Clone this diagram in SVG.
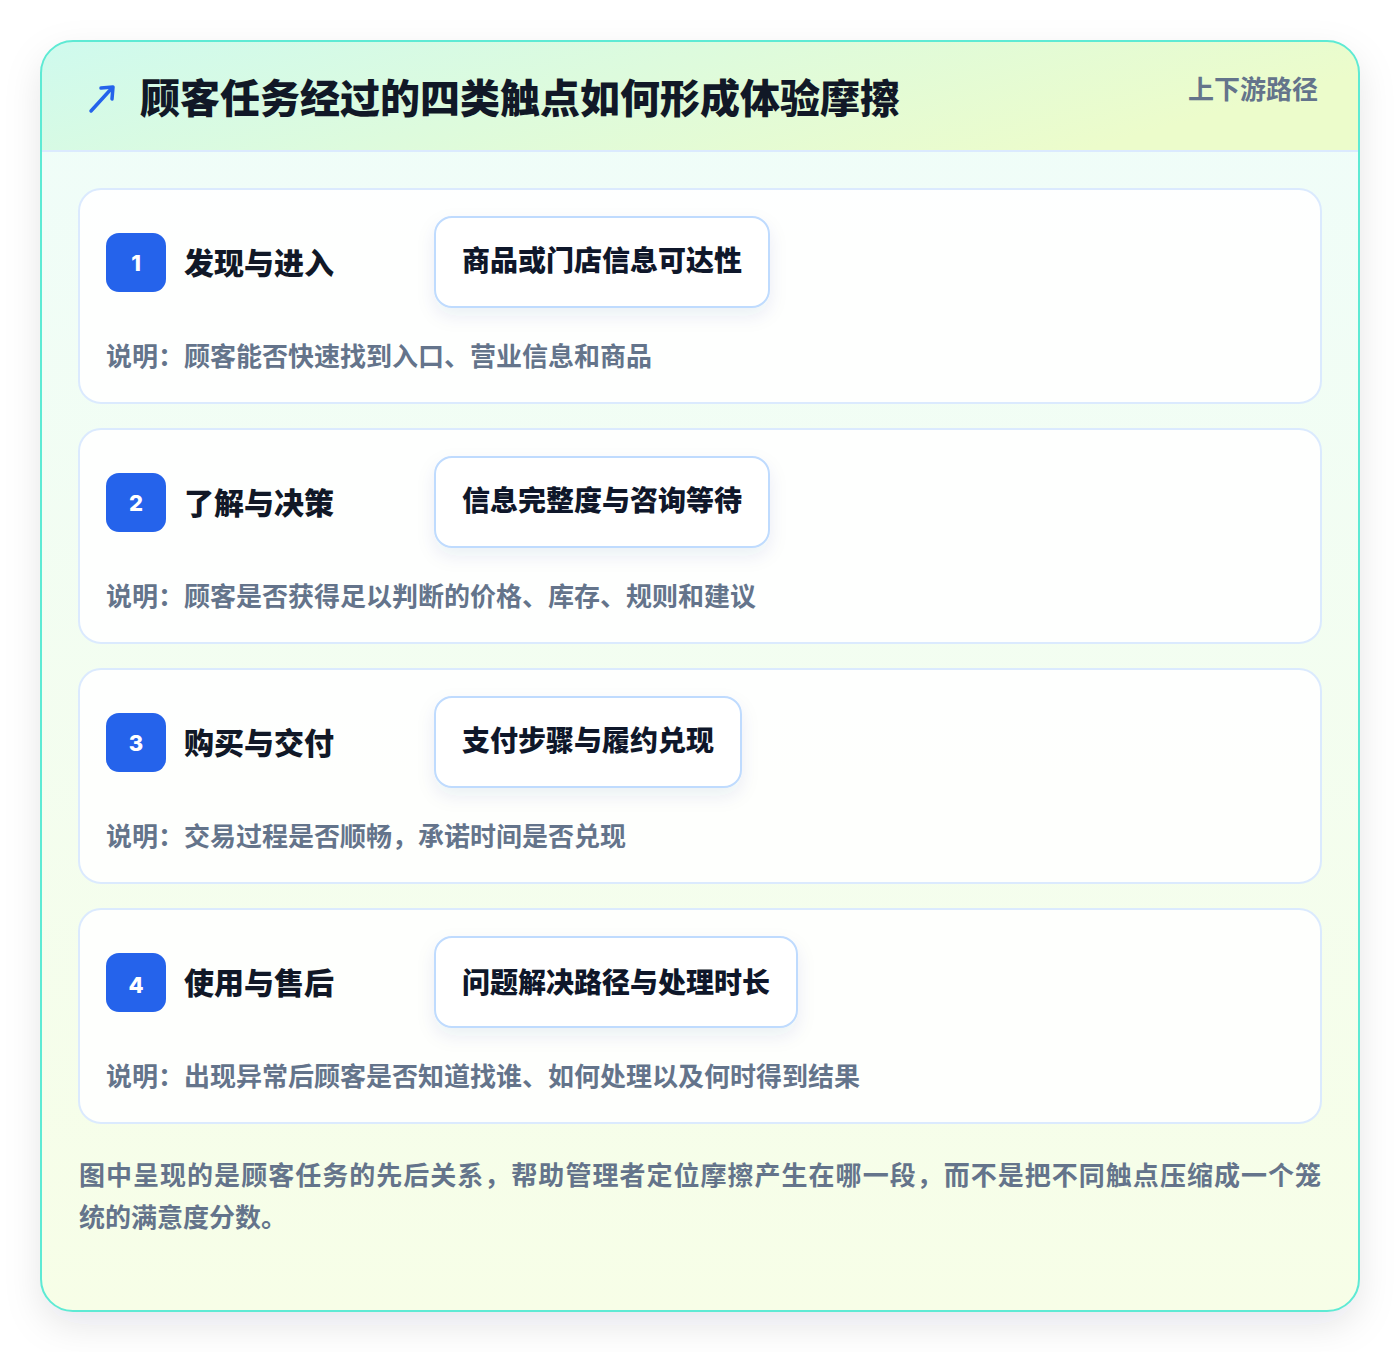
<svg xmlns="http://www.w3.org/2000/svg" width="1400" height="1352" viewBox="0 0 1400 1352">
<defs>
<linearGradient id="hdr" x1="0" y1="0" x2="1" y2="0.3">
<stop offset="0" stop-color="#cffaee"/>
<stop offset="1" stop-color="#ecfccb"/>
</linearGradient>
<linearGradient id="body" x1="0" y1="0" x2="0" y2="1">
<stop offset="0" stop-color="#effdfa"/>
<stop offset="1" stop-color="#f7fee7"/>
</linearGradient>
<filter id="outerShadow" x="-10%" y="-10%" width="120%" height="120%">
<feDropShadow dx="0" dy="14" stdDeviation="18" flood-color="#0f172a" flood-opacity="0.10"/>
</filter>
<filter id="pillShadow" x="-20%" y="-30%" width="140%" height="170%">
<feDropShadow dx="0" dy="8" stdDeviation="9" flood-color="#1e3a8a" flood-opacity="0.08"/>
</filter>
<clipPath id="cardClip"><rect x="41" y="41" width="1318" height="1270" rx="32"/></clipPath>
<style>
.cjk{font-family:"Noto Sans CJK SC","Noto Sans",sans-serif;}
.title{font-size:40px;font-weight:900;fill:#111827;}
.tag{font-size:26px;font-weight:700;fill:#64748b;}
.card{fill:#ffffff;fill-opacity:0.88;stroke:#dbeafe;stroke-width:2;}
.badge{fill:#2563eb;}
.num{font-family:"Inter","Noto Sans",sans-serif;font-size:22px;font-weight:800;fill:#ffffff;}
.stage{font-size:30px;font-weight:800;fill:#111827;}
.pill{fill:#ffffff;stroke:#bfdbfe;stroke-width:2;}
.pilltxt{font-size:28px;font-weight:800;fill:#0f172a;}
.desc{font-size:26px;font-weight:700;fill:#64748b;}
.foot{font-size:26px;font-weight:700;fill:#64748b;}
</style>
</defs>
<rect x="0" y="0" width="1400" height="1352" fill="#ffffff"/>
<g id="frame">
<rect x="41" y="41" width="1318" height="1270" rx="32" fill="url(#body)" filter="url(#outerShadow)"/>
<g clip-path="url(#cardClip)">
<rect x="41" y="41" width="1318" height="110" fill="url(#hdr)"/>
<line x1="41" y1="151" x2="1359" y2="151" stroke="#dbeafe" stroke-width="2"/>
</g>
<rect x="41" y="41" width="1318" height="1270" rx="32" fill="none" stroke="#5eead4" stroke-width="2"/>
</g>
<g id="header">
<g id="icon" stroke="#2563eb" stroke-width="3.5" fill="none" stroke-linecap="round" stroke-linejoin="round">
<line x1="91" y1="111" x2="112" y2="88"/>
<polyline points="101,88 113,87 112,99"/>
</g>
<text class="cjk title" x="140" y="113">顾客任务经过的四类触点如何形成体验摩擦</text>
<text class="cjk tag" x="1318" y="99" text-anchor="end">上下游路径</text>
</g>
<g id="connectors"></g>
<g id="stage1">
<rect class="card" x="79" y="189" width="1242" height="214" rx="22"/>
<rect class="badge" x="106" y="233" width="60" height="59" rx="13"/>
<text class="num" x="136" y="271" text-anchor="middle">1</text>
<text class="cjk stage" x="184" y="274">发现与进入</text>
<rect class="pill" x="435" y="217" width="334" height="90" rx="17" filter="url(#pillShadow)"/>
<text class="cjk pilltxt" x="462" y="271">商品或门店信息可达性</text>
<text class="cjk desc" x="106" y="366">说明：顾客能否快速找到入口、营业信息和商品</text>
</g>
<g id="stage2">
<rect class="card" x="79" y="429" width="1242" height="214" rx="22"/>
<rect class="badge" x="106" y="473" width="60" height="59" rx="13"/>
<text class="num" x="136" y="511" text-anchor="middle">2</text>
<text class="cjk stage" x="184" y="514">了解与决策</text>
<rect class="pill" x="435" y="457" width="334" height="90" rx="17" filter="url(#pillShadow)"/>
<text class="cjk pilltxt" x="462" y="511">信息完整度与咨询等待</text>
<text class="cjk desc" x="106" y="606">说明：顾客是否获得足以判断的价格、库存、规则和建议</text>
</g>
<g id="stage3">
<rect class="card" x="79" y="669" width="1242" height="214" rx="22"/>
<rect class="badge" x="106" y="713" width="60" height="59" rx="13"/>
<text class="num" x="136" y="751" text-anchor="middle">3</text>
<text class="cjk stage" x="184" y="754">购买与交付</text>
<rect class="pill" x="435" y="697" width="306" height="90" rx="17" filter="url(#pillShadow)"/>
<text class="cjk pilltxt" x="462" y="751">支付步骤与履约兑现</text>
<text class="cjk desc" x="106" y="846">说明：交易过程是否顺畅，承诺时间是否兑现</text>
</g>
<g id="stage4">
<rect class="card" x="79" y="909" width="1242" height="214" rx="22"/>
<rect class="badge" x="106" y="953" width="60" height="59" rx="13"/>
<text class="num" x="136" y="993" text-anchor="middle">4</text>
<text class="cjk stage" x="184" y="994">使用与售后</text>
<rect class="pill" x="435" y="937" width="362" height="90" rx="17" filter="url(#pillShadow)"/>
<text class="cjk pilltxt" x="462" y="993">问题解决路径与处理时长</text>
<text class="cjk desc" x="106" y="1086">说明：出现异常后顾客是否知道找谁、如何处理以及何时得到结果</text>
</g>
<g id="footnote">
<text class="cjk foot" x="79" y="1185" textLength="1242" lengthAdjust="spacing">图中呈现的是顾客任务的先后关系，帮助管理者定位摩擦产生在哪一段，而不是把不同触点压缩成一个笼</text>
<text class="cjk foot" x="79" y="1227">统的满意度分数。</text>
</g>
</svg>
